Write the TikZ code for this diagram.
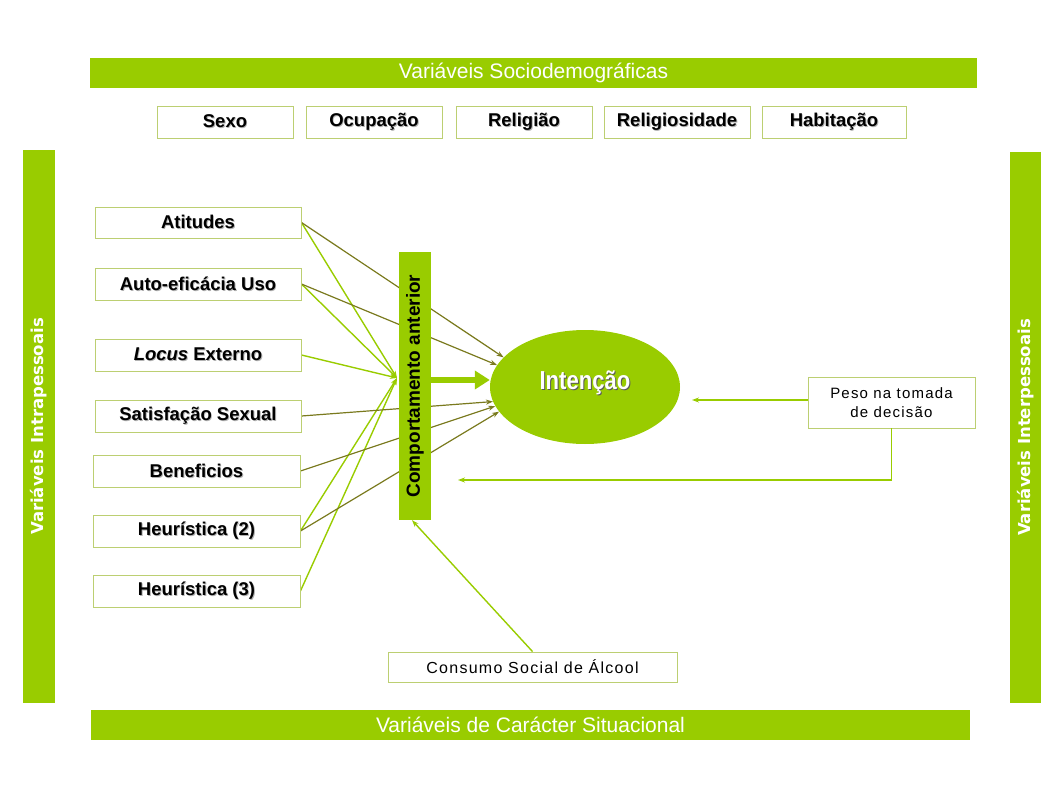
\documentclass[tikz,border=0pt]{standalone}
\usepackage{fontspec}
\setmainfont{Liberation Sans}
\newfontfamily\dvfont{DejaVu Sans}
\usetikzlibrary{arrows.meta,shapes.geometric,backgrounds}
\definecolor{lg}{HTML}{99CC00}
\definecolor{ol}{HTML}{7A7A1E}
\definecolor{bx}{HTML}{BCCF72}
\newcommand\shtxt[1]{\leavevmode\rlap{\kern0.9pt\raisebox{-0.9pt}{\textcolor{black!30}{#1}}}#1}
\tikzset{
  band/.style={fill=lg, draw=none, inner sep=0pt, text=white, font=\fontsize{21}{24}\selectfont},
  sideband/.style={fill=lg, draw=none, inner sep=0pt},
  sidetext/.style={text=white, rotate=90, font=\dvfont\fontsize{16.5}{20}\selectfont\bfseries},
  varbox/.style={draw=bx, line width=0.9pt, fill=white, inner sep=0pt, font=\fontsize{18.5}{21}\selectfont\bfseries},
  gline/.style={draw=lg, line width=1.4pt, -{Stealth[length=7pt,width=5pt]}},
  oline/.style={draw=ol, line width=1.2pt, -{Stealth[length=7pt,width=5pt]}},
}
\begin{document}
\begin{tikzpicture}[x=1pt,y=-1pt]
\useasboundingbox (0,0) rectangle (1053,792);
% bands
\node[band, minimum width=887, minimum height=30] (top) at (533.5,73) {Variáveis Sociodemográficas};
\node[band, minimum width=879, minimum height=30] (bot) at (530.5,725) {Variáveis de Carácter Situacional};
\node[sideband, minimum width=32, minimum height=553] (lbar) at (39,426.5) {};
\node[sidetext] (ltxt) at (lbar.center) {Variáveis Intrapessoais};
\node[sideband, minimum width=31, minimum height=551] (rbar) at (1025.5,427.5) {};
\node[sidetext] (rtxt) at (rbar.center) {Variáveis Interpessoais};
% top boxes
\node[varbox, minimum width=136, minimum height=32] (sexo) at (225,122) {\shtxt{Sexo}};
\node[varbox, minimum width=136, minimum height=32] (ocup) at (374,122) {\shtxt{Ocupação}};
\node[varbox, minimum width=136, minimum height=32] (relig) at (524,122) {\shtxt{Religião}};
\node[varbox, minimum width=146, minimum height=32] (religs) at (677,122) {\shtxt{Religiosidade}};
\node[varbox, minimum width=144, minimum height=32] (habit) at (834,122) {\shtxt{Habitação}};
% left boxes
\node[varbox, minimum width=206, minimum height=31] (atit) at (198,222.5) {\shtxt{Atitudes}};
\node[varbox, minimum width=206, minimum height=32] (auto) at (198,284) {\shtxt{Auto-eficácia Uso}};
\node[varbox, minimum width=206, minimum height=32] (locus) at (198,355) {\shtxt{\textit{Locus} Externo}};
\node[varbox, minimum width=206, minimum height=32] (satis) at (198,416) {\shtxt{Satisfação Sexual}};
\node[varbox, minimum width=207, minimum height=32] (benef) at (196.5,471) {\shtxt{Beneficios}};
\node[varbox, minimum width=207, minimum height=32] (heur2) at (196.5,531) {\shtxt{Heurística (2)}};
\node[varbox, minimum width=207, minimum height=32] (heur3) at (196.5,591) {\shtxt{Heurística (3)}};
% centre
\node[fill=lg, inner sep=0pt, minimum width=32, minimum height=268] (comp) at (415,386) {};
\node[rotate=90, font=\fontsize{19}{22}\selectfont\bfseries] (comptxt) at (comp.center) {Comportamento anterior};
\node[ellipse, fill=lg, inner sep=0pt, minimum width=190, minimum height=114] (int) at (585,387) {};
\node[font=\fontsize{26}{30}\selectfont\bfseries] (inttxt) at (585,383) {\scalebox{0.85}[1]{\rlap{\kern1.2pt\raisebox{-1.2pt}{\textcolor{black!65}{Intenção}}}\textcolor{white}{Intenção}}};
\node[draw=bx, line width=0.9pt, fill=white, inner sep=0pt, minimum width=167, minimum height=51, align=center,
      font=\fontsize{15}{19}\selectfont\addfontfeature{LetterSpace=8}] (peso) at (891.5,402.5) {Peso na tomada\\de decisão};
\node[draw=bx, line width=0.9pt, fill=white, inner sep=0pt, minimum width=289, minimum height=30,
      font=\fontsize{16}{19}\selectfont\addfontfeature{LetterSpace=8}] (cons) at (532.5,667) {Consumo Social de Álcool};
\coordinate (conv) at (397,378);
\coordinate (pesoend) at (692,400);
\coordinate (fbend) at (458,480);
% connectors behind
\begin{scope}[on background layer]
  \draw[gline] (atit.east) -- (conv);
  \draw[gline] (auto.east) -- (conv);
  \draw[gline] (locus.east) -- (conv);
  \draw[gline] (heur2.east) -- (conv);
  \draw[gline] (heur3.east) -- (conv);
  \draw[oline] (atit.east) -- (int.160);
  \draw[oline] (auto.east) -- (int.166);
  \draw[oline] (satis.east) -- (int.189);
  \draw[oline] (benef.east) -- (int.192);
  \draw[oline] (heur2.east) -- (int.196);
\end{scope}
\draw[lg, line width=6pt, -{Triangle[length=15pt,width=18pt]}] (comp.east |- 0,380) -- (int.west |- 0,380);
\draw[gline] (peso.west |- pesoend) -- (pesoend);
\draw[gline] (peso.south) |- (fbend);
\draw[gline] (cons.north) -- ([xshift=-3pt]comp.south);
\end{tikzpicture}
\end{document}
